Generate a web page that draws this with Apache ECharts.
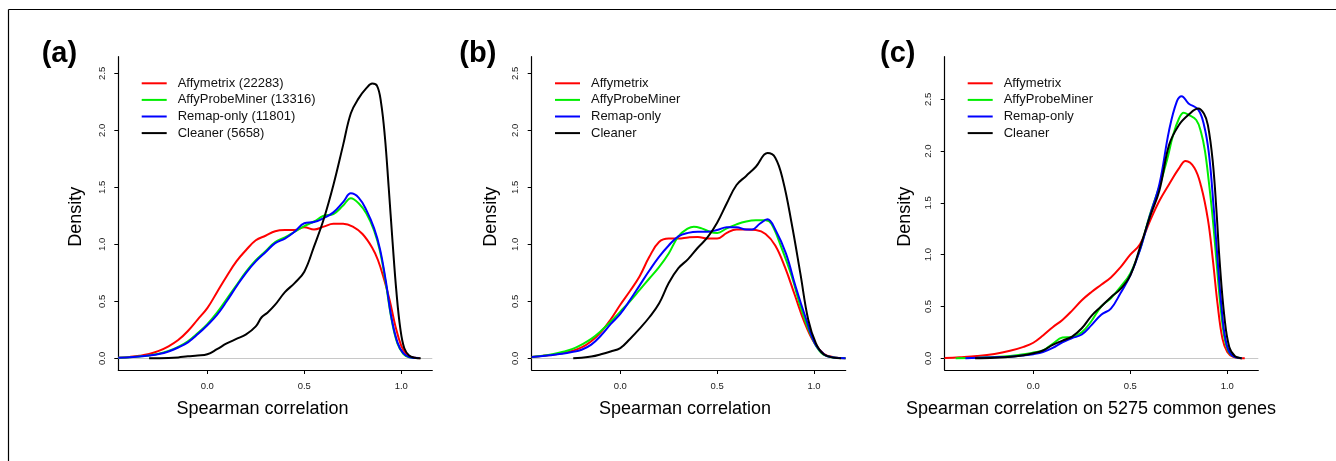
<!DOCTYPE html>
<html>
<head>
<meta charset="utf-8">
<script src="https://cdn.jsdelivr.net/npm/echarts@6/dist/echarts.min.js"></script>
<style>
html,body{margin:0;padding:0;background:#fff;}
#chart{width:1336px;height:461px;}
</style>
</head>
<body>
<div id="chart"></div>
<script>
// ---------- data (x = Spearman correlation, y = density) ----------
const legendA = ['Affymetrix (22283)', 'AffyProbeMiner (13316)', 'Remap-only (11801)', 'Cleaner (5658)'];
const legendBC = ['Affymetrix', 'AffyProbeMiner', 'Remap-only', 'Cleaner'];
const seriesColors = ['#FF0000', '#00EE00', '#0000FF', '#000000'];
const xTicks = [0, 0.5, 1.0];
const yTicks = [0, 0.5, 1.0, 1.5, 2.0, 2.5];

// panel (a)
const aAffymetrix = [[-0.459,0.004],[-0.40,0.012],[-0.35,0.022],[-0.30,0.038],[-0.25,0.065],[-0.20,0.105],[-0.15,0.16],[-0.10,0.24],[-0.05,0.34],[0.0,0.44],[0.05,0.58],[0.10,0.72],[0.15,0.85],[0.20,0.95],[0.25,1.035],[0.30,1.075],[0.35,1.115],[0.40,1.125],[0.45,1.125],[0.50,1.15],[0.55,1.13],[0.60,1.155],[0.65,1.18],[0.70,1.18],[0.75,1.155],[0.80,1.09],[0.85,0.97],[0.88,0.86],[0.91,0.70],[0.94,0.51],[0.97,0.28],[1.00,0.11],[1.03,0.03],[1.06,0.008],[1.096,0.001]];
const aAffyProbeMiner = [[-0.459,0.004],[-0.40,0.01],[-0.35,0.016],[-0.30,0.025],[-0.25,0.04],[-0.20,0.065],[-0.15,0.10],[-0.10,0.15],[-0.05,0.22],[0.0,0.30],[0.05,0.40],[0.10,0.52],[0.15,0.64],[0.20,0.76],[0.25,0.86],[0.30,0.94],[0.35,1.02],[0.40,1.06],[0.45,1.11],[0.50,1.16],[0.55,1.20],[0.60,1.25],[0.65,1.265],[0.70,1.34],[0.74,1.405],[0.78,1.36],[0.82,1.27],[0.86,1.12],[0.89,0.94],[0.92,0.66],[0.95,0.34],[0.98,0.13],[1.01,0.04],[1.04,0.01],[1.09,0.002]];
const aRemapOnly = [[-0.459,0.004],[-0.40,0.01],[-0.35,0.015],[-0.30,0.024],[-0.25,0.037],[-0.20,0.06],[-0.15,0.095],[-0.10,0.14],[-0.05,0.21],[0.0,0.29],[0.05,0.38],[0.10,0.50],[0.15,0.63],[0.20,0.75],[0.25,0.85],[0.30,0.93],[0.35,1.01],[0.40,1.05],[0.45,1.11],[0.50,1.185],[0.55,1.195],[0.60,1.23],[0.65,1.28],[0.70,1.37],[0.74,1.447],[0.78,1.41],[0.82,1.30],[0.86,1.14],[0.89,0.96],[0.92,0.68],[0.95,0.35],[0.98,0.14],[1.01,0.045],[1.04,0.012],[1.09,0.002]];
const aCleaner = [[-0.30,0.0],[-0.20,0.003],[-0.15,0.008],[-0.10,0.018],[-0.05,0.024],[0.0,0.035],[0.05,0.08],[0.10,0.13],[0.15,0.17],[0.20,0.21],[0.25,0.28],[0.28,0.36],[0.31,0.40],[0.35,0.47],[0.40,0.58],[0.45,0.66],[0.50,0.76],[0.55,0.98],[0.60,1.22],[0.65,1.52],[0.70,1.87],[0.74,2.15],[0.78,2.28],[0.82,2.37],[0.85,2.41],[0.875,2.39],[0.895,2.25],[0.915,1.95],[0.935,1.50],[0.955,1.02],[0.975,0.58],[0.995,0.26],[1.015,0.09],[1.04,0.025],[1.07,0.005],[1.10,0.0]];

// panel (b)
const bAffymetrix = [[-0.457,0.012],[-0.40,0.022],[-0.35,0.032],[-0.30,0.045],[-0.25,0.065],[-0.20,0.095],[-0.15,0.15],[-0.10,0.23],[-0.05,0.34],[0.0,0.47],[0.05,0.59],[0.10,0.72],[0.15,0.89],[0.20,1.02],[0.25,1.05],[0.30,1.05],[0.35,1.06],[0.40,1.065],[0.45,1.05],[0.50,1.05],[0.55,1.10],[0.60,1.13],[0.65,1.13],[0.70,1.125],[0.75,1.09],[0.80,0.99],[0.85,0.80],[0.90,0.56],[0.95,0.32],[1.00,0.14],[1.05,0.04],[1.10,0.01],[1.163,0.001]];
const bAffyProbeMiner = [[-0.457,0.012],[-0.40,0.022],[-0.35,0.035],[-0.30,0.055],[-0.25,0.08],[-0.20,0.12],[-0.15,0.17],[-0.10,0.24],[-0.05,0.32],[0.0,0.41],[0.05,0.50],[0.10,0.60],[0.15,0.70],[0.20,0.80],[0.25,0.92],[0.30,1.07],[0.35,1.14],[0.38,1.155],[0.42,1.14],[0.47,1.105],[0.50,1.10],[0.55,1.14],[0.60,1.175],[0.65,1.20],[0.70,1.21],[0.75,1.21],[0.78,1.18],[0.83,0.98],[0.885,0.72],[0.935,0.43],[0.99,0.18],[1.04,0.045],[1.10,0.008],[1.163,0.001]];
const bRemapOnly = [[-0.457,0.012],[-0.40,0.02],[-0.35,0.03],[-0.30,0.04],[-0.25,0.055],[-0.20,0.075],[-0.15,0.12],[-0.10,0.20],[-0.05,0.30],[0.0,0.39],[0.05,0.51],[0.10,0.64],[0.15,0.77],[0.20,0.89],[0.25,0.99],[0.30,1.07],[0.35,1.10],[0.40,1.11],[0.45,1.11],[0.50,1.125],[0.55,1.15],[0.60,1.15],[0.65,1.13],[0.68,1.13],[0.72,1.18],[0.76,1.22],[0.80,1.13],[0.855,0.92],[0.905,0.63],[0.96,0.34],[1.005,0.13],[1.055,0.03],[1.10,0.008],[1.163,0.001]];
const bCleaner = [[-0.243,0.0],[-0.20,0.005],[-0.15,0.015],[-0.10,0.035],[-0.05,0.06],[0.0,0.09],[0.05,0.17],[0.10,0.26],[0.15,0.36],[0.20,0.48],[0.25,0.66],[0.30,0.79],[0.35,0.87],[0.40,0.97],[0.45,1.06],[0.50,1.19],[0.55,1.36],[0.60,1.52],[0.65,1.60],[0.70,1.68],[0.76,1.80],[0.80,1.76],[0.84,1.56],[0.885,1.18],[0.93,0.74],[0.97,0.34],[1.01,0.13],[1.05,0.035],[1.10,0.006],[1.14,0.0]];

// panel (c)
const cAffymetrix = [[-0.457,0.002],[-0.38,0.01],[-0.29,0.022],[-0.20,0.042],[-0.12,0.072],[-0.05,0.11],[0.0,0.15],[0.05,0.22],[0.10,0.30],[0.15,0.37],[0.20,0.46],[0.25,0.56],[0.30,0.64],[0.35,0.71],[0.40,0.78],[0.45,0.88],[0.50,1.0],[0.55,1.10],[0.60,1.32],[0.65,1.52],[0.70,1.68],[0.75,1.83],[0.785,1.905],[0.83,1.84],[0.865,1.66],[0.90,1.34],[0.925,0.96],[0.95,0.52],[0.975,0.19],[1.0,0.06],[1.03,0.015],[1.09,0.0]];
const cAffyProbeMiner = [[-0.40,0.0],[-0.29,0.006],[-0.20,0.012],[-0.12,0.022],[-0.05,0.038],[0.0,0.055],[0.05,0.075],[0.10,0.14],[0.15,0.20],[0.20,0.205],[0.25,0.25],[0.30,0.36],[0.35,0.50],[0.40,0.58],[0.45,0.69],[0.50,0.82],[0.55,1.05],[0.60,1.38],[0.65,1.66],[0.69,1.92],[0.72,2.15],[0.75,2.31],[0.775,2.37],[0.80,2.35],[0.84,2.30],[0.865,2.18],[0.885,2.0],[0.905,1.70],[0.925,1.35],[0.945,0.92],[0.965,0.50],[0.985,0.20],[1.005,0.07],[1.03,0.02],[1.074,0.0]];
const cRemapOnly = [[-0.35,0.0],[-0.20,0.01],[-0.12,0.016],[-0.05,0.028],[0.0,0.04],[0.05,0.06],[0.10,0.10],[0.15,0.155],[0.20,0.195],[0.25,0.23],[0.30,0.32],[0.35,0.42],[0.40,0.48],[0.45,0.63],[0.50,0.80],[0.55,1.045],[0.60,1.37],[0.65,1.68],[0.70,2.20],[0.74,2.48],[0.765,2.53],[0.80,2.46],[0.85,2.40],[0.88,2.25],[0.905,1.98],[0.93,1.45],[0.95,0.95],[0.97,0.50],[0.99,0.19],[1.02,0.035],[1.074,0.0]];
const cCleaner = [[-0.30,0.0],[-0.20,0.006],[-0.10,0.018],[-0.05,0.03],[0.0,0.048],[0.05,0.075],[0.10,0.13],[0.15,0.17],[0.20,0.21],[0.25,0.29],[0.30,0.41],[0.35,0.50],[0.40,0.59],[0.45,0.67],[0.50,0.80],[0.55,1.07],[0.60,1.36],[0.65,1.62],[0.70,2.06],[0.75,2.25],[0.80,2.35],[0.85,2.41],[0.88,2.36],[0.90,2.25],[0.925,1.90],[0.945,1.40],[0.96,0.95],[0.985,0.40],[1.01,0.11],[1.04,0.02],[1.074,0.0]];

// ---------- layout ----------
const FONT = "'Liberation Sans', Arial, Helvetica, sans-serif";
const panels = [
  { grid:{left:118.3, top:56.7, width:314, height:313.3}, x:[-0.4588,1.1598], y:[-0.1026,2.6456],
    data:[aAffymetrix,aAffyProbeMiner,aRemapOnly,aCleaner], names:legendA, legendLeft:141.7,
    label:'(a)', labelX:41.7, ytitleX:76, xtitleX:262.5, xtitle:'Spearman correlation' },
  { grid:{left:531.7, top:56.7, width:314, height:313.3}, x:[-0.4574,1.1637], y:[-0.1026,2.6456],
    data:[bAffymetrix,bAffyProbeMiner,bRemapOnly,bCleaner], names:legendBC, legendLeft:555,
    label:'(b)', labelX:459.3, ytitleX:491.5, xtitleX:685, xtitle:'Spearman correlation' },
  { grid:{left:944.7, top:56.7, width:313.6, height:313.3}, x:[-0.4567,1.1598], y:[-0.113,2.911],
    data:[cAffymetrix,cAffyProbeMiner,cRemapOnly,cCleaner], names:legendBC, legendLeft:967.7,
    label:'(c)', labelX:880, ytitleX:904.7, xtitleX:1091, xtitle:'Spearman correlation on 5275 common genes' }
];

const grid = [], xAxis = [], yAxis = [], series = [], legend = [], graphic = [];
const fmt = v => v.toFixed(1);

panels.forEach((p, i) => {
  grid.push(Object.assign({containLabel:false}, p.grid));
  xAxis.push({
    type:'value', gridIndex:i, min:p.x[0], max:p.x[1],
    axisLine:{show:true, onZero:false, lineStyle:{color:'#000', width:1.2}},
    axisTick:{show:true, length:4, customValues:xTicks, lineStyle:{color:'#000'}},
    axisLabel:{show:true, customValues:xTicks, formatter:fmt, fontSize:9.5, color:'#222', fontFamily:FONT, margin:11},
    splitLine:{show:false}
  });
  yAxis.push({
    type:'value', gridIndex:i, min:p.y[0], max:p.y[1],
    axisLine:{show:true, onZero:false, lineStyle:{color:'#000', width:1.2}},
    axisTick:{show:true, length:4, customValues:yTicks, lineStyle:{color:'#000'}},
    axisLabel:{show:true, customValues:yTicks, formatter:fmt, fontSize:9.5, color:'#222', fontFamily:FONT, rotate:90, margin:11},
    splitLine:{show:false}
  });
  p.data.forEach((d, k) => {
    const s = {
      type:'line', name:p.names[k], xAxisIndex:i, yAxisIndex:i, data:d,
      symbol:'none', showSymbol:false, smooth:0.4, color:seriesColors[k],
      lineStyle:{width:2, color:seriesColors[k]}, z:3 + k, animation:false
    };
    if (k === 0) {
      s.markLine = {silent:true, symbol:['none','none'], label:{show:false}, animation:false,
        lineStyle:{color:'#c8c8c8', type:'solid', width:1}, data:[{yAxis:0}], z:1};
    }
    series.push(s);
  });
  legend.push({
    data:p.names, left:p.legendLeft, top:76.3, orient:'vertical', padding:0,
    icon:'rect', itemWidth:25, itemHeight:2, itemGap:2.6,
    selectedMode:false, textStyle:{fontSize:13, lineHeight:14, height:14, color:'#111', fontFamily:FONT, padding:[0,0,0,6]}
  });
  graphic.push({type:'text', left:p.labelX, top:39, style:{text:p.label, font:'bold 29px ' + FONT, fill:'#000'}});
  graphic.push({type:'text', x:p.ytitleX, y:216.7, rotation:Math.PI/2,
    style:{text:'Density', font:'18px ' + FONT, fill:'#000', align:'center', verticalAlign:'middle'}});
  graphic.push({type:'text', x:p.xtitleX, y:409,
    style:{text:p.xtitle, font:'18px ' + FONT, fill:'#000', align:'center', verticalAlign:'middle'}});
});

// outer frame (top and left edges visible)
graphic.push({type:'line', shape:{x1:8.5, y1:9.5, x2:1340, y2:9.5}, style:{stroke:'#000', lineWidth:1.2}});
graphic.push({type:'line', shape:{x1:8.5, y1:9.5, x2:8.5, y2:470}, style:{stroke:'#000', lineWidth:1.2}});

const chart = echarts.init(document.getElementById('chart'), null, {renderer:'canvas'});
chart.setOption({animation:false, backgroundColor:'#fff', grid, xAxis, yAxis, series, legend, graphic});
</script>
</body>
</html>
